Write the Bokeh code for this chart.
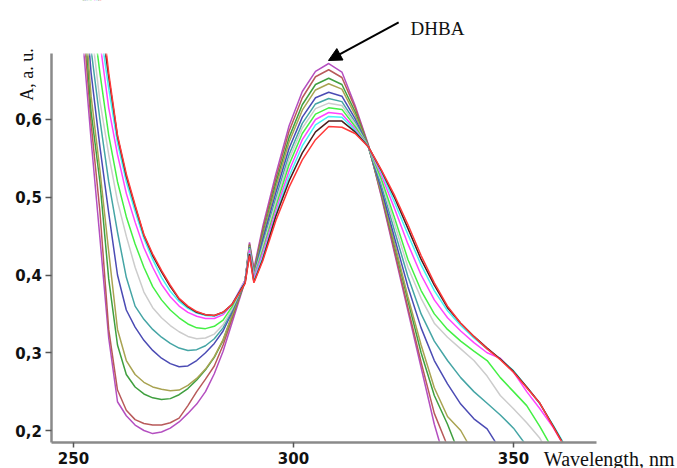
from bokeh.plotting import figure
from bokeh.models import Range1d, FixedTicker, Label, Arrow, NormalHead, BoxAnnotation
from bokeh.embed import file_html
from bokeh.resources import INLINE

nan = float("nan")

wavelength = [252, 254, 256, 258, 260, 262, 264, 266, 268, 270, 272, 274, 276, 278, 280,
              282, 284, 286, 288, 289, 290, 291, 293, 296, 299, 302, 305, 308, 311, 314,
              317, 320, 323, 326, 329, 332, 335, 338, 341, 344, 347, 350, 353, 356, 359, 362]

a_purple = [0.710, 0.574, 0.448, 0.319, 0.237, 0.219, 0.207, 0.200, 0.196, 0.198, 0.203, 0.211, 0.222, 0.234, 0.250,
            0.273, 0.302, 0.338, 0.374, 0.392, 0.442, 0.408, 0.462, 0.530, 0.592, 0.636, 0.662, 0.672, 0.661, 0.618,
            0.568, 0.500, 0.427, 0.354, 0.281, 0.208, 0.150, 0.100, nan, nan, nan, nan, nan, nan, nan, nan]
a_brown = [0.740, 0.595, 0.482, 0.330, 0.252, 0.226, 0.214, 0.209, 0.207, 0.207, 0.210, 0.216, 0.232, 0.250, 0.266,
           0.283, 0.310, 0.343, 0.376, 0.392, 0.440, 0.405, 0.458, 0.524, 0.585, 0.628, 0.655, 0.664, 0.654, 0.615,
           0.567, 0.502, 0.430, 0.358, 0.288, 0.222, 0.180, 0.130, nan, nan, nan, nan, nan, nan, nan, nan]
a_green = [0.770, 0.610, 0.520, 0.395, 0.310, 0.272, 0.256, 0.247, 0.242, 0.240, 0.241, 0.246, 0.254, 0.265, 0.278,
           0.294, 0.316, 0.347, 0.377, 0.392, 0.438, 0.403, 0.452, 0.518, 0.577, 0.619, 0.645, 0.653, 0.645, 0.610,
           0.566, 0.505, 0.437, 0.367, 0.300, 0.245, 0.208, 0.165, 0.120, nan, nan, nan, nan, nan, nan, nan]
a_olive = [0.780, 0.630, 0.535, 0.430, 0.330, 0.290, 0.272, 0.262, 0.256, 0.253, 0.251, 0.252, 0.258, 0.267, 0.279,
           0.295, 0.317, 0.348, 0.378, 0.393, 0.437, 0.402, 0.449, 0.513, 0.571, 0.612, 0.638, 0.646, 0.639, 0.606,
           0.565, 0.506, 0.440, 0.372, 0.310, 0.255, 0.218, 0.200, 0.170, 0.130, nan, nan, nan, nan, nan, nan]
a_blue = [0.800, 0.660, 0.565, 0.480, 0.400, 0.355, 0.333, 0.316, 0.303, 0.293, 0.286, 0.282, 0.283, 0.290, 0.300,
          0.312, 0.328, 0.352, 0.379, 0.393, 0.436, 0.400, 0.445, 0.506, 0.563, 0.603, 0.628, 0.635, 0.630, 0.601,
          0.565, 0.510, 0.447, 0.385, 0.332, 0.290, 0.260, 0.234, 0.215, 0.202, 0.175, 0.140, nan, nan, nan, nan]
a_teal = [0.830, 0.690, 0.600, 0.520, 0.455, 0.397, 0.360, 0.343, 0.330, 0.320, 0.312, 0.306, 0.303, 0.304, 0.309,
          0.318, 0.332, 0.354, 0.380, 0.393, 0.435, 0.399, 0.440, 0.499, 0.555, 0.595, 0.620, 0.627, 0.623, 0.597,
          0.565, 0.515, 0.456, 0.398, 0.350, 0.315, 0.290, 0.268, 0.250, 0.235, 0.220, 0.203, 0.180, 0.150, nan, nan]
a_gray = [0.860, 0.720, 0.624, 0.555, 0.495, 0.450, 0.410, 0.378, 0.358, 0.345, 0.335, 0.327, 0.321, 0.318, 0.319,
          0.324, 0.336, 0.356, 0.381, 0.393, 0.434, 0.398, 0.436, 0.494, 0.549, 0.589, 0.614, 0.621, 0.618, 0.594,
          0.565, 0.520, 0.465, 0.410, 0.370, 0.338, 0.320, 0.305, 0.290, 0.270, 0.245, 0.228, 0.210, 0.190, 0.160, nan]
a_lime = [0.890, 0.750, 0.660, 0.580, 0.520, 0.475, 0.440, 0.410, 0.385, 0.368, 0.355, 0.345, 0.337, 0.332, 0.331,
          0.334, 0.342, 0.359, 0.382, 0.393, 0.433, 0.397, 0.432, 0.488, 0.542, 0.582, 0.607, 0.615, 0.613, 0.591,
          0.565, 0.523, 0.473, 0.420, 0.380, 0.350, 0.330, 0.315, 0.302, 0.290, 0.268, 0.250, 0.232, 0.205, 0.175, nan]
a_magenta = [0.920, 0.790, 0.700, 0.615, 0.555, 0.505, 0.468, 0.435, 0.410, 0.388, 0.372, 0.360, 0.352, 0.347, 0.344,
             0.344, 0.349, 0.362, 0.383, 0.393, 0.432, 0.396, 0.428, 0.483, 0.534, 0.574, 0.600, 0.609, 0.607, 0.588,
             0.565, 0.528, 0.485, 0.440, 0.400, 0.368, 0.345, 0.328, 0.313, 0.300, 0.293, 0.275, 0.250, 0.228, 0.204, 0.175]
a_cyan = [0.930, 0.810, 0.720, 0.640, 0.570, 0.520, 0.482, 0.447, 0.420, 0.397, 0.379, 0.366, 0.357, 0.351, 0.348,
          0.347, 0.351, 0.362, 0.382, 0.391, 0.428, 0.393, 0.423, 0.478, 0.527, 0.566, 0.593, 0.604, 0.603, 0.586,
          0.565, 0.532, 0.493, 0.452, 0.413, 0.380, 0.354, 0.335, 0.319, 0.305, 0.292, 0.277, 0.256, 0.234, 0.207, 0.178]
a_dark = [0.940, 0.830, 0.740, 0.655, 0.578, 0.527, 0.488, 0.451, 0.425, 0.404, 0.385, 0.369, 0.359, 0.352, 0.349,
          0.348, 0.352, 0.362, 0.381, 0.390, 0.427, 0.391, 0.420, 0.476, 0.521, 0.557, 0.584, 0.598, 0.598, 0.584,
          0.565, 0.534, 0.499, 0.460, 0.420, 0.387, 0.358, 0.338, 0.321, 0.306, 0.292, 0.276, 0.256, 0.235, 0.206, 0.176]
a_red = [0.950, 0.850, 0.760, 0.660, 0.580, 0.530, 0.490, 0.452, 0.427, 0.406, 0.387, 0.370, 0.360, 0.353, 0.349,
         0.348, 0.352, 0.362, 0.380, 0.389, 0.425, 0.390, 0.418, 0.470, 0.513, 0.548, 0.574, 0.591, 0.590, 0.582,
         0.565, 0.535, 0.502, 0.465, 0.425, 0.390, 0.360, 0.338, 0.321, 0.305, 0.291, 0.275, 0.255, 0.235, 0.205, 0.175]

series = [a_purple, a_brown, a_green, a_olive, a_blue, a_teal, a_gray, a_lime, a_magenta, a_cyan, a_dark, a_red]
colors = ["#b44fc0", "#b85a5a", "#3f9f3f", "#a9a352", "#4b4bb4", "#45a5a5",
          "#cccccc", "#44f044", "#ff44ff", "#44f4f4", "#4a1c1c", "#ff3a3a"]

x_ticks = [250, 300, 350]
y_ticks = [0.2, 0.3, 0.4, 0.5, 0.6]
y_tick_labels = ["0,2", "0,3", "0,4", "0,5", "0,6"]

# visible plotting area (axes extent)
x_lo, x_hi = 245.1, 368.9
y_lo, y_hi = 0.1846, 0.685

p = figure(width=677, height=468, output_backend="svg", toolbar_location=None,
           x_range=Range1d(233.41, 387.27), y_range=Range1d(0.15113, 0.75305),
           min_border=0)
p.outline_line_color = None
p.xgrid.visible = False
p.ygrid.visible = False
p.background_fill_color = "white"

for ys, c in zip(series, colors):
    p.line(wavelength, ys, line_color=c, line_width=1.5)

# hide curve parts outside the axes box
for box in (BoxAnnotation(bottom=y_hi, top=2.0), BoxAnnotation(top=y_lo, bottom=-1.0)):
    box.fill_color = "white"
    box.fill_alpha = 1
    box.line_color = "white"
    box.line_width = 4
    box.level = "glyph"
    p.add_layout(box)

for ax in (p.xaxis[0], p.yaxis[0]):
    ax.axis_line_color = "#8a8a8a"
    ax.axis_line_width = 2.5
    ax.major_tick_line_color = "#555555"
    ax.major_tick_line_width = 1.5
    ax.minor_tick_line_color = None
    ax.major_tick_in = 0
    ax.major_tick_out = 6
    ax.major_label_text_font = "DejaVu Sans"
    ax.major_label_text_font_style = "bold"
    ax.major_label_text_font_size = "15px"
    ax.major_label_text_color = "#111111"

p.xaxis[0].ticker = FixedTicker(ticks=x_ticks)
p.xaxis[0].major_tick_out = 5
p.xaxis[0].major_label_standoff = 5
p.xaxis[0].fixed_location = y_lo
p.xaxis[0].bounds = (x_lo, x_hi)
p.yaxis[0].ticker = FixedTicker(ticks=y_ticks)
p.yaxis[0].major_label_overrides = {t: s for t, s in zip(y_ticks, y_tick_labels)}
p.yaxis[0].major_label_standoff = 4
p.yaxis[0].fixed_location = x_lo
p.yaxis[0].bounds = (y_lo, y_hi)

p.add_layout(Label(x=356.9, y=0.1628, text="Wavelength, nm", text_font="Liberation Serif",
                   text_font_size="20px", text_color="#111111", text_baseline="alphabetic"))
p.add_layout(Label(x=326.6, y=0.717, text="DHBA", text_font="Liberation Serif",
                   text_font_size="19px", text_color="#111111", text_baseline="alphabetic"))
p.add_layout(Label(x=239.5, y=0.624, text="A, a. u.", text_font="Liberation Serif",
                   text_font_size="18px", text_color="#111111", angle=1.5708,
                   text_align="left", text_baseline="middle"))
p.add_layout(Arrow(end=NormalHead(size=13, fill_color="black", line_color="black"),
                   x_start=323.9, y_start=0.7248, x_end=307.95, y_end=0.6759,
                   line_color="black", line_width=2))

open("out.html", "w").write(file_html(p, INLINE))
